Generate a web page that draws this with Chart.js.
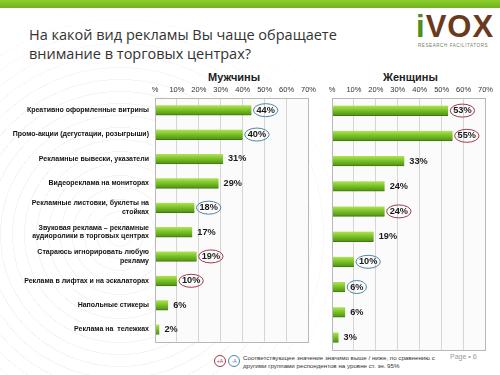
<!DOCTYPE html>
<html>
<head>
<meta charset="utf-8">
<script src="https://cdn.jsdelivr.net/npm/chart.js@4"></script>
<style>
  body { margin: 0; width: 500px; height: 375px; position: relative; overflow: hidden; background: #fff; font-family: "Liberation Sans", Arial, sans-serif; }
  .rings { position: absolute; left: 0; top: 0; width: 500px; height: 375px;
    background: repeating-radial-gradient(circle at 120px 235px, rgba(255,255,255,0) 0 11px, rgba(0,0,0,0.045) 11px 12px);
    -webkit-mask-image: radial-gradient(circle at 120px 235px, #000 0 150px, rgba(0,0,0,0) 260px); }
  .topbar { position: absolute; left: 0; top: 0; width: 500px; height: 8px; background: linear-gradient(#8ccf2c, #6fb21c); }
  .title { position: absolute; left: 29px; top: 25px; font-family: "Open Sans", sans-serif; font-size: 14.5px; line-height: 19px; color: #333; }
  .logo { position: absolute; left: 416px; top: 9px; font-family: "Liberation Sans", sans-serif; font-weight: bold; font-size: 31px; color: #6b3a1d; letter-spacing: 1px; }
  .logo .i { color: #4f8f22; }
  .tag { position: absolute; left: 418px; top: 43px; font-size: 4.5px; color: #6a7f55; letter-spacing: 0.6px; }
  .hdr { position: absolute; top: 71px; font-weight: bold; font-size: 11px; color: #222; }
  canvas { position: absolute; }
  .legend { position: absolute; left: 243px; top: 354px; font-size: 6.2px; line-height: 8px; color: #333; }
  .mark { position: absolute; top: 355px; width: 10px; height: 10px; border-radius: 50%; border: 1px solid; font-size: 5px; line-height: 10px; text-align: center; background: #fff; }
  .page { position: absolute; left: 450px; top: 353px; font-size: 7px; color: #999; }
</style>
</head>
<body>
<div class="rings"></div>
<div class="topbar"></div>
<div class="title">На какой вид рекламы Вы чаще обращаете<br>внимание в торговых центрах?</div>
<div class="logo"><span class="i">i</span>VOX</div>
<div class="tag">RESEARCH FACILITATORS</div>
<div class="hdr" style="left:208px">Мужчины</div>
<div class="hdr" style="left:383px">Женщины</div>
<canvas id="men" width="320" height="272" style="left:0;top:80px"></canvas>
<canvas id="women" width="185" height="272" style="left:312px;top:80px"></canvas>
<div class="mark" style="left:214px;color:#a5384b;border-color:#a5384b">+A</div>
<div class="mark" style="left:228px;color:#4f86a8;border-color:#4f86a8">-A</div>
<div class="legend">Соответствующее значение значимо выше / ниже, по сравнению с<br>другими группами респондентов на уровне ст. зн. 95%</div>
<div class="page">Page • 6</div>
<script>
const categories = [
  "Креативно оформленные витрины",
  "Промо-акции (дегустации, розыгрыши)",
  "Рекламные вывески, указатели",
  "Видеореклама на мониторах",
  ["Рекламные листовки, буклеты на", "стойках"],
  ["Звуковая реклама – рекламные", "аудиоролики в торговых центрах"],
  ["Стараюсь игнорировать любую", "рекламу"],
  "Реклама в лифтах и на эскалаторах",
  "Напольные стикеры",
  "Реклама на  тележках",
];
const menValues = [44, 40, 31, 29, 18, 17, 19, 10, 6, 2];
const womenValues = [53, 55, 33, 24, 24, 19, 10, 6, 6, 3];
// "up" = significantly higher, "down" = significantly lower
const menSig = ["down", "down", null, null, "down", null, "up", "up", null, null];
const womenSig = ["up", "up", null, null, "up", null, "down", "down", null, null];
const xTicks = [0, 10, 20, 30, 40, 50, 60, 70];

const sigColors = { up: "#a5384b", down: "#4f86a8" };

function barFill(c) {
  const s = c.chart.scales.y;
  const yc = s ? s.getPixelForValue(c.dataIndex) : NaN;
  if (!isFinite(yc)) return "#76bc21";
  const g = c.chart.ctx.createLinearGradient(0, yc - 5, 0, yc + 5);
  g.addColorStop(0, "#b2e25a");
  g.addColorStop(0.45, "#7cc427");
  g.addColorStop(1, "#4f9113");
  return g;
}

const frame = {
  id: "frame",
  beforeDraw(chart) {
    const a = chart.chartArea;
    const ctx = chart.ctx;
    ctx.save();
    ctx.fillStyle = "#fbfbfb";
    ctx.fillRect(a.left, a.top, a.right - a.left, a.bottom - a.top);
    ctx.restore();
  },
  afterDraw(chart) {
    const a = chart.chartArea;
    const ctx = chart.ctx;
    ctx.save();
    ctx.strokeStyle = "#b8b8b8";
    ctx.lineWidth = 1;
    ctx.strokeRect(Math.round(a.left) + 0.5, Math.round(a.top) + 0.5, Math.round(a.right - a.left), Math.round(a.bottom - a.top));
    ctx.restore();
  },
};

const valueLabels = {
  id: "valueLabels",
  afterDatasetsDraw(chart, args, opts) {
    const ctx = chart.ctx;
    const meta = chart.getDatasetMeta(0);
    const data = chart.data.datasets[0].data;
    ctx.save();
    ctx.font = "bold 9.2px 'Liberation Sans', Arial, sans-serif";
    ctx.textBaseline = "middle";
    ctx.fillStyle = "#1a1a1a";
    meta.data.forEach((bar, i) => {
      const txt = data[i] + "%";
      const x = bar.x + 5;
      const w = ctx.measureText(txt).width;
      ctx.fillText(txt, x, bar.y);
      const sig = opts.sig[i];
      if (sig) {
        ctx.strokeStyle = sigColors[sig];
        ctx.lineWidth = 1;
        ctx.beginPath();
        ctx.ellipse(x + w / 2, bar.y, w / 2 + 3, 6.5, 0, 0, Math.PI * 2);
        ctx.stroke();
      }
    });
    ctx.restore();
  },
};

function makeChart(id, values, sig, labelWidth, padding) {
  const chart = new Chart(document.getElementById(id), {
    type: "bar",
    data: {
      labels: categories,
      datasets: [{
        data: values,
        backgroundColor: barFill,
        borderColor: "#3f7a10",
        borderWidth: { top: 0, left: 0, right: 0, bottom: 1 },
        borderSkipped: false,
        barThickness: 10,
      }],
    },
    options: {
      indexAxis: "y",
      responsive: false,
      animation: false,
      layout: { padding: padding },
      plugins: {
        legend: { display: false },
        tooltip: { enabled: false },
        valueLabels: { sig: sig },
      },
      scales: {
        x: {
          position: "top",
          min: 0,
          max: 70,
          afterBuildTicks: (scale) => { scale.ticks = xTicks.map((v) => ({ value: v })); },
          afterFit: (scale) => { scale.height = 14; },
          border: { display: false },
          grid: { color: "#d6d6d6", drawTicks: false },
          ticks: {
            padding: 4,
            color: "#333",
            font: { size: 7.5, family: "'Liberation Sans', Arial, sans-serif" },
            callback: (v) => (v === 0 ? "%" : v + "%"),
          },
        },
        y: {
          afterFit: (scale) => { scale.width = labelWidth; },
          border: { display: false },
          grid: { display: false, drawTicks: false },
          ticks: {
            display: labelWidth > 0,
            padding: 6,
            color: "#111",
            font: { size: 7, weight: "bold", family: "'Liberation Sans', Arial, sans-serif", lineHeight: 1.22 },
          },
        },
      },
    },
    plugins: [frame, valueLabels],
  });
  chart.update("none");
  return chart;
}

makeChart("men", menValues, menSig, 155, { top: 4, bottom: 2, left: 0, right: 11 });
makeChart("women", womenValues, womenSig, 0, { top: 4, bottom: 2, left: 20, right: 10 });
</script>
</body>
</html>
